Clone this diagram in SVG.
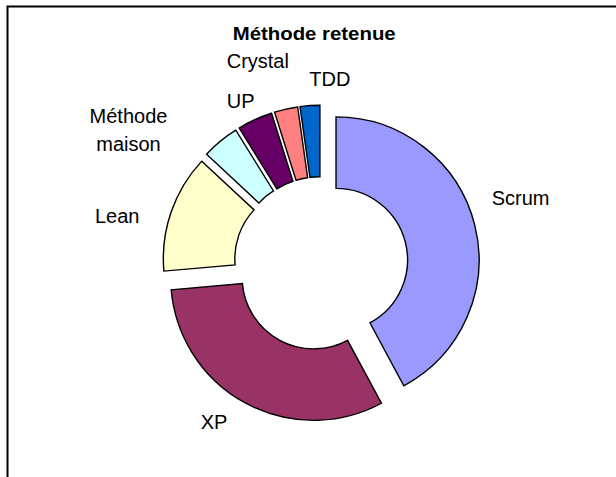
<svg xmlns="http://www.w3.org/2000/svg" width="616" height="477" viewBox="0 0 616 477">
  <style>
    .slice { stroke: #000; stroke-width: 1.4; stroke-linejoin: miter; }
    .lbl { font-family: "Liberation Sans", Arial, sans-serif; font-size: 20px; fill: #000; }
    .title { font-family: "Liberation Sans", Arial, sans-serif; font-size: 17.5px; font-weight: bold; fill: #000; }
  </style>
  <rect width="616" height="477" fill="#fff"/>
  <path d="M7.5,477 V6.5 H616" fill="none" stroke="#000" stroke-width="2"/>
  <text class="title" x="314.2" y="40" text-anchor="middle" textLength="163" lengthAdjust="spacingAndGlyphs">Méthode retenue</text>

  <g id="scrum">
    <path class="slice" fill="#9999FF" d="M336.03,116.91 A143,143 0 0 1 403.83,385.82 L369.93,322.87 A71.5,71.5 0 0 0 336.03,188.41 Z"/>
    <text class="lbl" x="491.7" y="205">Scrum</text>
  </g>
  <g id="xp">
    <path class="slice" fill="#993366" d="M381.44,403.25 A143,143 0 0 1 171.18,289.80 L242.41,283.57 A71.5,71.5 0 0 0 347.54,340.30 Z"/>
    <text class="lbl" x="200.7" y="429">XP</text>
  </g>
  <g id="lean">
    <path class="slice" fill="#FFFFCC" d="M163.88,271.11 A143,143 0 0 1 201.75,161.12 L254.05,209.89 A71.5,71.5 0 0 0 235.11,264.88 Z"/>
    <text class="lbl" x="95" y="223.3">Lean</text>
  </g>
  <g id="methode-maison">
    <path class="slice" fill="#CCFFFF" d="M206.57,154.19 A143,143 0 0 1 235.80,130.18 L273.48,190.95 A71.5,71.5 0 0 0 258.87,202.96 Z"/>
    <text class="lbl" x="128.5" y="123.3" text-anchor="middle">Méthode</text>
    <text class="lbl" x="128.5" y="151" text-anchor="middle">maison</text>
  </g>
  <g id="up">
    <path class="slice" fill="#660066" d="M239.17,128.07 A143,143 0 0 1 271.53,113.23 L293.03,181.42 A71.5,71.5 0 0 0 276.85,188.84 Z"/>
    <text class="lbl" x="226.7" y="107.7">UP</text>
  </g>
  <g id="crystal">
    <path class="slice" fill="#FF8080" d="M274.58,112.20 A143,143 0 0 1 297.68,106.97 L307.63,177.77 A71.5,71.5 0 0 0 296.08,180.39 Z"/>
    <text class="lbl" x="226.7" y="68.3">Crystal</text>
  </g>
  <g id="tdd">
    <path class="slice" fill="#0066CC" d="M300.02,106.63 A143,143 0 0 1 319.92,105.24 L319.92,176.74 A71.5,71.5 0 0 0 309.97,177.43 Z"/>
    <text class="lbl" x="309.3" y="85.7">TDD</text>
  </g>
  <g id="connectors"/>
</svg>
